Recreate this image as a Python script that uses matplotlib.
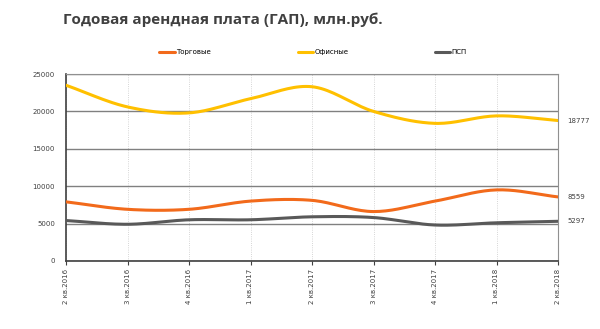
import numpy as np
import matplotlib.pyplot as plt

quarters = ['2 кв.2016', '3 кв.2016', '4 кв.2016', '1 кв.2017', '2 кв.2017',
            '3 кв.2017', '4 кв.2017', '1 кв.2018', '2 кв.2018']
trade = [7900, 6900, 6900, 8000, 8100, 6600, 8000, 9500, 8559]
office = [23500, 20600, 19800, 21700, 23300, 20000, 18400, 19400, 18777]
psp = [5400, 4900, 5500, 5500, 5900, 5800, 4800, 5100, 5297]

series = [('Торговые', trade, '#f26a1b'),
          ('Офисные', office, '#ffc000'),
          ('ПСП', psp, '#595959')]


def smooth(y, n=20):
    # Catmull-Rom curve through the points, like the smoothed line in Excel
    y = np.asarray(y, dtype=float)
    p = np.concatenate([[2 * y[0] - y[1]], y, [2 * y[-1] - y[-2]]])
    xs, ys = [], []
    for i in range(len(y) - 1):
        p0, p1, p2, p3 = p[i], p[i + 1], p[i + 2], p[i + 3]
        t = np.linspace(0, 1, n, endpoint=False)
        seg = 0.5 * ((2 * p1) + (-p0 + p2) * t
                     + (2 * p0 - 5 * p1 + 4 * p2 - p3) * t ** 2
                     + (-p0 + 3 * p1 - 3 * p2 + p3) * t ** 3)
        xs.append(i + t)
        ys.append(seg)
    xs.append([len(y) - 1])
    ys.append([y[-1]])
    return np.concatenate(xs), np.concatenate(ys)


fig = plt.figure(figsize=(6, 3.29), dpi=100)
ax = fig.add_axes([0.11, 0.207, 0.82, 0.568])

x = np.arange(len(quarters))
for name, vals, color in series:
    sx, sy = smooth(vals)
    ax.plot(sx, sy, color=color, lw=2.2, label=name, solid_capstyle='round', zorder=3)
    ax.text(len(quarters) - 1 + 0.15, vals[-1], str(vals[-1]), fontsize=5,
            color='#404040', va='center', ha='left')

ax.set_xlim(0, len(quarters) - 1)
ax.set_ylim(0, 25000)
ax.set_yticks(range(0, 25001, 5000))
ax.set_xticks(x)
ax.set_xticklabels(quarters, rotation=90, fontsize=5, color='#404040')
ax.tick_params(axis='y', labelsize=5, labelcolor='#404040', length=0, pad=8)
ax.tick_params(axis='x', length=3, color='#404040', pad=3)

ax.grid(axis='y', color='#808080', lw=1)
ax.grid(axis='x', color='#c8c8c8', lw=0.6, ls=':')
for side in ['top', 'right']:
    ax.spines[side].set_color('#909090')
for side in ['left', 'bottom']:
    ax.spines[side].set_color('#404040')
    ax.spines[side].set_linewidth(1.2)

fig.legend(loc='center', bbox_to_anchor=(0.522, 0.842), ncol=3, frameon=False,
           fontsize=5, handlelength=2.2, columnspacing=12.5, handletextpad=0.2)
fig.text(0.105, 0.94, 'Годовая арендная плата (ГАП), млн.руб.', fontsize=11,
         fontweight='bold', color='#404040', family='Open Sans', va='center')

fig.savefig('out.png', dpi=100)
